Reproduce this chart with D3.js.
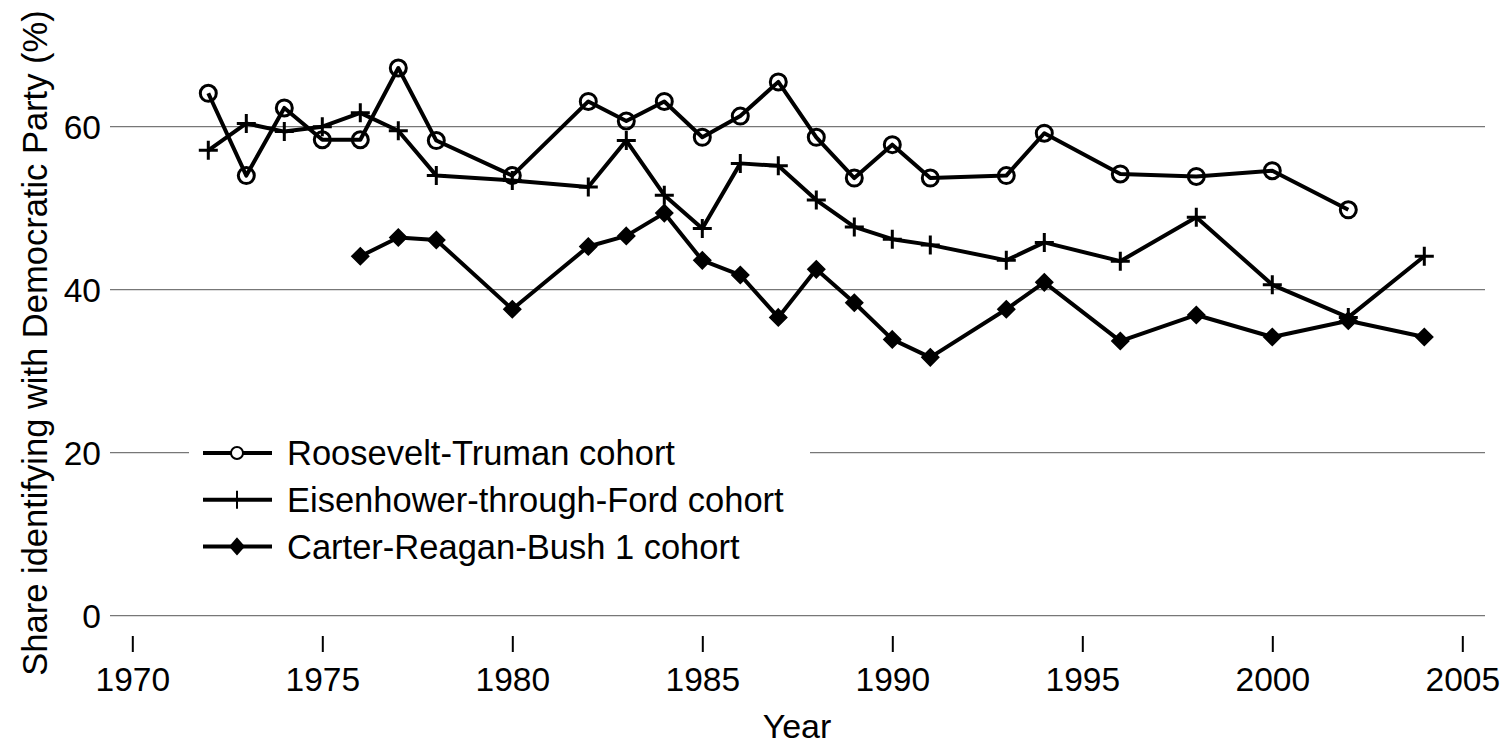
<!DOCTYPE html>
<html>
<head>
<meta charset="utf-8">
<script src="https://cdn.jsdelivr.net/npm/d3@7"></script>
<style>
  body { margin: 0; background: #fff; }
  svg text { font-family: "Liberation Sans", Arial, sans-serif; fill: #000; }
</style>
</head>
<body>
<div id="chart"></div>
<script>
// data
const rtYears = [1972, 1973, 1974, 1975, 1976, 1977, 1978, 1980, 1982, 1983, 1984, 1985, 1986, 1987, 1988, 1989, 1990, 1991, 1993, 1994, 1996, 1998, 2000, 2002];
const rtValues = [64.1, 54.0, 62.3, 58.4, 58.4, 67.2, 58.3, 54.0, 63.1, 60.7, 63.1, 58.7, 61.3, 65.5, 58.7, 53.7, 57.8, 53.7, 54.0, 59.2, 54.2, 53.9, 54.6, 49.8];

const efYears = [1972, 1973, 1974, 1975, 1976, 1977, 1978, 1980, 1982, 1983, 1984, 1985, 1986, 1987, 1988, 1989, 1990, 1991, 1993, 1994, 1996, 1998, 2000, 2002, 2004];
const efValues = [57.1, 60.4, 59.4, 60.0, 61.7, 59.5, 54.0, 53.4, 52.6, 58.3, 51.6, 47.5, 55.5, 55.2, 51.0, 47.7, 46.2, 45.5, 43.6, 45.8, 43.5, 48.9, 40.6, 36.6, 44.1];

const crbYears = [1976, 1977, 1978, 1980, 1982, 1983, 1984, 1985, 1986, 1987, 1988, 1989, 1990, 1991, 1993, 1994, 1996, 1998, 2000, 2002, 2004];
const crbValues = [44.1, 46.4, 46.1, 37.6, 45.3, 46.6, 49.4, 43.6, 41.8, 36.6, 42.5, 38.4, 33.9, 31.7, 37.6, 40.9, 33.7, 36.9, 34.2, 36.2, 34.2];

const seriesNames = ["Roosevelt-Truman cohort", "Eisenhower-through-Ford cohort", "Carter-Reagan-Bush 1 cohort"];
const seriesMarkers = ["circle", "plus", "diamond"];
const xTicks = [1970, 1975, 1980, 1985, 1990, 1995, 2000, 2005];
const yTicks = [0, 20, 40, 60];

const W = 1510, H = 746;

const series = [
  { name: seriesNames[0], marker: seriesMarkers[0], pts: rtYears.map((y, i) => [y, rtValues[i]]) },
  { name: seriesNames[1], marker: seriesMarkers[1], pts: efYears.map((y, i) => [y, efValues[i]]) },
  { name: seriesNames[2], marker: seriesMarkers[2], pts: crbYears.map((y, i) => [y, crbValues[i]]) }
];

const svg = d3.select("#chart").append("svg")
  .attr("width", W).attr("height", H);

const x = d3.scaleLinear().domain([1970, 2005]).range([132.3, 1462.3]);
const y = d3.scaleLinear().domain([0, 60]).range([615.7, 126.7]);

// horizontal grid
svg.append("g").selectAll("line")
  .data(yTicks).enter().append("line")
  .attr("x1", 110).attr("x2", 1485)
  .attr("y1", d => y(d)).attr("y2", d => y(d))
  .attr("stroke", "#777").attr("stroke-width", 1.3);

// y tick labels
svg.append("g").selectAll("text")
  .data(yTicks).enter().append("text")
  .attr("x", 101).attr("y", d => y(d))
  .attr("dy", "0.36em")
  .attr("text-anchor", "end")
  .attr("font-size", 33.5)
  .text(d => d);

// x axis: ticks only, no domain line
const xAxis = svg.append("g")
  .attr("transform", "translate(0,636)")
  .call(d3.axisBottom(x).tickValues(xTicks).tickFormat(d3.format("d")).tickSize(16).tickPadding(15));
xAxis.select(".domain").remove();
xAxis.selectAll(".tick line").attr("stroke", "#000").attr("stroke-width", 2);
xAxis.selectAll(".tick text").attr("font-size", 33.5).attr("font-family", "Liberation Sans, Arial, sans-serif").attr("fill", "#000");

// axis titles
svg.append("text")
  .attr("x", 797).attr("y", 738)
  .attr("text-anchor", "middle").attr("font-size", 34)
  .text("Year");

svg.append("text")
  .attr("transform", "translate(47,343) rotate(-90)")
  .attr("text-anchor", "middle").attr("font-size", 34.5)
  .text("Share identifying with Democratic Party (%)");

const line = d3.line().x(d => x(d[0])).y(d => y(d[1]));

function drawMarker(g, type, cx, cy, legendSize) {
  if (type === "circle") {
    g.append("circle").attr("cx", cx).attr("cy", cy).attr("r", legendSize ? 6 : 8)
      .attr("fill", legendSize ? "#fff" : "none").attr("stroke", "#000").attr("stroke-width", legendSize ? 2 : 3);
  } else if (type === "plus") {
    const h = legendSize ? 9 : 9.5;
    const path = legendSize ? `M${cx},${cy - h}V${cy + h}` : `M${cx - h},${cy}H${cx + h}M${cx},${cy - h}V${cy + h}`;
    g.append("path")
      .attr("d", path)
      .attr("stroke", "#000").attr("stroke-width", legendSize ? 2 : 3).attr("fill", "none");
  } else {
    const w = legendSize ? 7 : 8.5, h = legendSize ? 8 : 8.5;
    g.append("path")
      .attr("d", `M${cx},${cy - h}L${cx + w},${cy}L${cx},${cy + h}L${cx - w},${cy}Z`)
      .attr("fill", "#000").attr("stroke", "#000").attr("stroke-width", 1.5);
  }
}

// series lines and markers
series.forEach(s => {
  const g = svg.append("g");
  g.append("path").datum(s.pts)
    .attr("d", line)
    .attr("fill", "none").attr("stroke", "#000").attr("stroke-width", 4)
    .attr("stroke-linejoin", "round");
  s.pts.forEach(p => drawMarker(g, s.marker, x(p[0]), y(p[1]), false));
});

// legend
const legend = svg.append("g");
legend.append("rect")
  .attr("x", 189).attr("y", 428).attr("width", 621).attr("height", 145)
  .attr("fill", "#fff");
series.forEach((s, i) => {
  const ly = 453 + i * 46.7;
  legend.append("line")
    .attr("x1", 203).attr("x2", 272).attr("y1", ly).attr("y2", ly)
    .attr("stroke", "#000").attr("stroke-width", 4);
  drawMarker(legend, s.marker, 237, ly, true);
  legend.append("text")
    .attr("x", 287).attr("y", ly).attr("dy", "0.36em")
    .attr("font-size", 34.5)
    .text(s.name);
});
</script>
</body>
</html>
